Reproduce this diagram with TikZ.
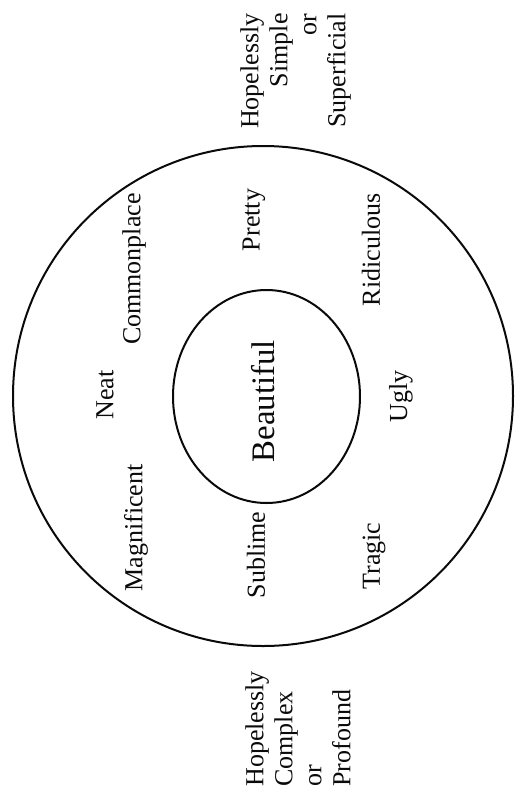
\documentclass[tikz,border=0pt]{standalone}
\usepackage{fontspec}
\setmainfont{Liberation Serif}

\definecolor{printink}{RGB}{10,10,10}

\begin{document}
\begin{tikzpicture}[x=0.5pt,y=-0.5pt,line cap=round,line join=round,
    word/.style={printink,rotate=90,inner sep=0pt,font=\fontsize{13}{14.5}\selectfont}]
        \useasboundingbox (0,0) rectangle (515,793);

        \draw[printink,line width=1pt] (263,396) circle[radius=250];
        \draw[printink,line width=1pt] (266.5,396.5) ellipse[x radius=93.5,y radius=106.5];

        \node[word,font=\fontsize{16.4}{19}\selectfont] (beautiful) at (263,401) {Beautiful};

        \node[word] (commonplace) at (134,269) {Commonplace};
        \node[word] (neat) at (105,395) {Neat};
        \node[word] (magnificent) at (136,528) {Magnificent};

        \node[word] (pretty) at (254,220) {Pretty};
        \node[word] (sublime) at (256,555) {Sublime};

        \node[word] (ridiculous) at (371,250) {Ridiculous};
        \node[word] (ugly) at (401,396) {Ugly};
        \node[word] (tragic) at (374,556) {Tragic};

        \node[word,anchor=east,align=right] (simple) at (295.5,13)
            {Hopelessly\\Simple\\or\\Superficial};
        \node[word,anchor=west,align=left] (complex) at (298,787)
            {Hopelessly\\Complex\\or\\Profound};
    \end{tikzpicture}
\end{document}
